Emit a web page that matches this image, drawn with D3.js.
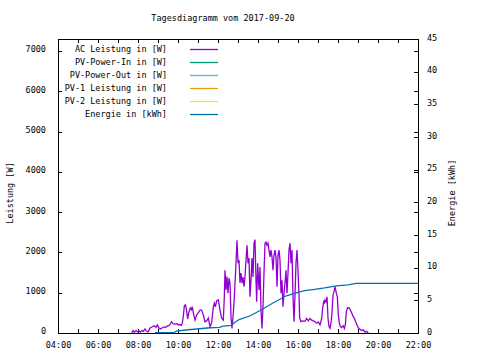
<!DOCTYPE html>
<html>
<head>
<meta charset="utf-8">
<script src="https://cdn.jsdelivr.net/npm/d3@7"></script>
<style>
  html, body { margin: 0; padding: 0; background: #fff; }
  svg { display: block; }
  text { font-family: "DejaVu Sans Mono", monospace; font-size: 8.5px; fill: #000; }
</style>
</head>
<body>
<svg id="chart" width="480" height="360"></svg>
<script>
// ---- data ----
const title = "Tagesdiagramm vom 2017-09-20";
const yLabel = "Leistung [W]";
const y2Label = "Energie [kWh]";
const xTickHours = [4,5,6,7,8,9,10,11,12,13,14,15,16,17,18,19,20,21,22];
const yTicks = [0,1000,2000,3000,4000,5000,6000,7000];
const y2Ticks = [0,5,10,15,20,25,30,35,40,45];

const seriesNames = ["AC Leistung in [W]", "PV-Power-In in [W]", "PV-Power-Out in [W]", "PV-1 Leistung in [W]", "PV-2 Leistung in [W]", "Energie in [kWh]"];
const seriesColors = ["#9400d3", "#009e73", "#56b4e9", "#e69f00", "#f0e442", "#0072b2"];

const acTime = ["07:41","07:45","07:49","07:54","07:58","08:03","08:07","08:12","08:16","08:21","08:25","08:31","08:36","08:42","08:48","08:54","08:58","09:03","09:07","09:12","09:18","09:24","09:28","09:33","09:37","09:41","09:45","09:51","09:57","10:01","10:06","10:10","10:13","10:16","10:19","10:22","10:25","10:29","10:33","10:37","10:40","10:43","10:46","10:51","10:56","11:01","11:06","11:11","11:16","11:21","11:26","11:31","11:36","11:41","11:46","11:49","11:52","11:56","12:01","12:06","12:11","12:16","12:19","12:21","12:24","12:27","12:30","12:33","12:36","12:39","12:42","12:46","12:49","12:53","12:57","13:00","13:03","13:06","13:09","13:12","13:15","13:18","13:21","13:24","13:27","13:30","13:33","13:36","13:39","13:42","13:45","13:48","13:51","13:54","13:56","13:59","14:03","14:06","14:09","14:12","14:15","14:18","14:21","14:24","14:27","14:30","14:33","14:36","14:39","14:42","14:45","14:48","14:51","14:54","14:57","15:00","15:03","15:06","15:09","15:12","15:15","15:18","15:21","15:24","15:27","15:30","15:33","15:36","15:39","15:42","15:45","15:48","15:51","15:54","15:57","16:00","16:03","16:05","16:09","16:15","16:21","16:26","16:31","16:36","16:41","16:46","16:51","16:56","17:01","17:06","17:11","17:14","17:17","17:19","17:21","17:24","17:27","17:30","17:33","17:36","17:39","17:42","17:45","17:48","17:51","17:53","17:55","17:58","18:01","18:04","18:07","18:11","18:16","18:19","18:22","18:25","18:29","18:33","18:37","18:41","18:45","18:49","18:53","18:57","19:01","19:06","19:11","19:16","19:21","19:26","19:31"];
const acWatt = [0,60,20,60,30,55,20,60,40,100,50,30,125,150,180,140,200,120,100,125,150,140,175,180,225,280,230,220,230,200,210,190,250,425,675,700,600,350,530,620,580,650,500,320,450,500,570,570,450,280,300,370,160,250,650,740,650,800,820,570,370,320,900,1560,1070,1400,990,1360,1240,400,115,500,900,1560,2300,1730,1810,1240,1490,1240,1390,1150,1390,1810,2180,1730,1860,900,1310,1860,1390,2230,2320,1310,775,1730,1070,1640,570,115,650,1490,2230,2260,2180,2230,2060,1890,2060,1890,1560,1930,2060,1890,1150,1930,2060,1810,990,1310,650,990,1240,1560,990,1490,2060,2230,1730,2060,900,280,940,1730,2060,1560,940,370,280,300,290,360,300,360,320,300,280,250,270,200,360,620,775,750,820,775,900,370,160,115,250,500,940,1020,1150,1070,990,900,450,250,160,140,180,115,200,530,630,630,570,500,420,370,280,200,130,90,60,80,20,40,0];

const energyTime = ["08:51","09:50","09:55","10:30","11:05","11:35","12:05","12:15","12:40","12:50","13:05","13:35","14:05","14:45","15:25","16:00","16:20","16:45","17:20","17:55","18:30","18:55","22:00"];
const energyKWh = [0.05,0.1,0.3,0.5,0.65,0.8,0.85,1.05,1.15,1.6,2.1,2.6,3.4,4.6,5.7,6.2,6.5,6.65,6.9,7.2,7.35,7.6,7.6];

// ---- chart ----
const svg = d3.select("#chart");
const W = 480, H = 360;
const mLeft = 58, mRight = 418, mTop = 39, mBottom = 333;

const parse = d3.timeParse("%Y-%m-%d %H:%M");
const day = "2017-09-20 ";
const toDate = s => parse(day + s);
const hourDate = h => parse(day + String(h).padStart(2, "0") + ":00");

const x = d3.scaleTime().domain([hourDate(4), hourDate(22)]).range([mLeft, mRight]);
const y = d3.scaleLinear().domain([0, 7300]).range([mBottom, mTop]);
const y2 = d3.scaleLinear().domain([0, 45]).range([mBottom, mTop]);

svg.append("rect").attr("width", W).attr("height", H).attr("fill", "#fff");

// title
svg.append("text").attr("x", 223).attr("y", 21).attr("text-anchor", "middle").text(title);

const fmt = d3.timeFormat("%H:%M");
const xt = xTickHours.map(hourDate);

// bottom axis
svg.append("g").attr("transform", `translate(0,${mBottom})`)
  .call(d3.axisBottom(x).tickValues(xt).tickSize(-4).tickPadding(9)
    .tickFormat(d => (d.getHours() % 2 === 0) ? fmt(d) : ""));
// top axis (mirror)
svg.append("g").attr("transform", `translate(0,${mTop})`)
  .call(d3.axisTop(x).tickValues(xt).tickSize(-4).tickFormat(""));
// left axis
const gy = svg.append("g").attr("transform", `translate(${mLeft},0)`)
  .call(d3.axisLeft(y).tickValues(yTicks).tickSize(-4).tickPadding(12).tickFormat(d3.format("d")));
gy.selectAll("text").attr("dy", "0.1em");
// right mirror of left ticks
svg.append("g").attr("transform", `translate(${mRight},0)`)
  .call(d3.axisRight(y).tickValues(yTicks).tickSize(-4).tickFormat(""));
// right axis y2
const gy2 = svg.append("g").attr("transform", `translate(${mRight},0)`)
  .call(d3.axisRight(y2).tickValues(y2Ticks).tickSize(-4).tickPadding(9).tickFormat(d3.format("d")));
gy2.selectAll("text").attr("dy", "0.15em");

svg.selectAll(".domain").remove();
svg.selectAll(".tick line").attr("stroke", "#000").attr("shape-rendering", "crispEdges");
svg.selectAll(".tick text").style("font-family", "DejaVu Sans Mono, monospace").style("font-size", "8.5px");

// frame
svg.append("rect").attr("x", mLeft + 0.5).attr("y", mTop + 0.5)
  .attr("width", mRight - mLeft).attr("height", mBottom - mTop)
  .attr("fill", "none").attr("stroke", "#000").attr("shape-rendering", "crispEdges");

// axis titles
svg.append("text").attr("transform", `translate(13,193) rotate(-90)`).attr("text-anchor", "middle").text(yLabel);
svg.append("text").attr("transform", `translate(455,193) rotate(-90)`).attr("text-anchor", "middle").text(y2Label);

// series lines
const acData = acTime.map((t, i) => ({ t: toDate(t), v: acWatt[i] }));
const enData = energyTime.map((t, i) => ({ t: toDate(t), v: energyKWh[i] }));

svg.append("path").datum(acData)
  .attr("fill", "none").attr("stroke", seriesColors[0]).attr("stroke-width", 1.3)
  .attr("d", d3.line().x(d => x(d.t)).y(d => y(d.v)));

svg.append("path").datum(enData)
  .attr("fill", "none").attr("stroke", seriesColors[5]).attr("stroke-width", 1.3)
  .attr("d", d3.line().x(d => x(d.t)).y(d => y2(d.v)));

// legend
const legendY = [49, 62, 75, 88, 101, 114];
const lg = svg.append("g");
seriesNames.forEach((name, i) => {
  lg.append("text").attr("x", 167).attr("y", legendY[i] + 3).attr("text-anchor", "end").text(name);
  lg.append("line").attr("x1", 190).attr("x2", 218)
    .attr("y1", legendY[i] + 0.5).attr("y2", legendY[i] + 0.5)
    .attr("stroke", seriesColors[i]).attr("stroke-width", 1.3);
});
</script>
</body>
</html>
